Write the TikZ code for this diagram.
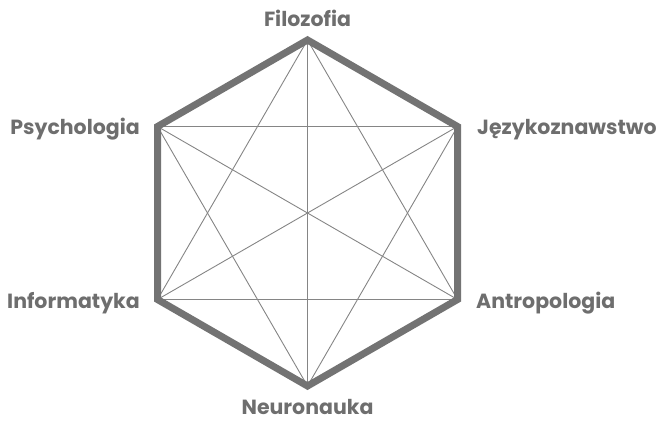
\documentclass[tikz,border=0pt]{standalone}
\usepackage{fontspec}
\setmainfont{Poppins}
\usetikzlibrary{calc}
\definecolor{hexgray}{HTML}{737373}
\definecolor{thingray}{HTML}{858585}
\definecolor{txtgray}{HTML}{6E6E6E}
\begin{document}
\begin{tikzpicture}[x=1pt,y=-1pt,
  lbl/.style={font=\fontsize{20.5}{24}\selectfont\bfseries, text=txtgray, inner sep=0pt},
  thin line/.style={draw=thingray, line width=0.9pt},
  outline/.style={draw=hexgray, line width=7pt, line join=miter}]
\useasboundingbox (0,0) rectangle (663,420);
\coordinate (c) at (307.5,213);
\coordinate (F) at ($(c)+(0,-173)$);
\coordinate (J) at ($(c)+(150,-86.5)$);
\coordinate (A) at ($(c)+(150,86.5)$);
\coordinate (N) at ($(c)+(0,173)$);
\coordinate (I) at ($(c)+(-150,86.5)$);
\coordinate (P) at ($(c)+(-150,-86.5)$);
\foreach \a/\b in {F/J,F/A,F/N,F/I,F/P,J/A,J/N,J/I,J/P,A/N,A/I,A/P,N/I,N/P,I/P}
  \draw[thin line] (\a) -- (\b);
\draw[outline] (F) -- (J) -- (A) -- (N) -- (I) -- (P) -- cycle;
\node[lbl, anchor=base] (tF) at (307.5,27) {Filozofia};
\node[lbl, anchor=base east] (tP) at (140,134) {Psychologia};
\node[lbl, anchor=base west] (tJ) at (477,134) {Językoznawstwo};
\node[lbl, anchor=base east] (tI) at (140,308) {Informatyka};
\node[lbl, anchor=base west] (tA) at (476,308) {Antropologia};
\node[lbl, anchor=base] (tN) at (307.5,414) {Neuronauka};
\end{tikzpicture}
\end{document}
